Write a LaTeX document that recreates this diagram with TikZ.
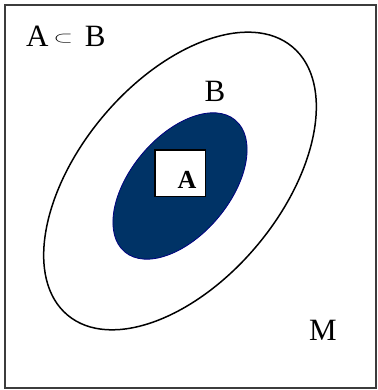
\documentclass[tikz,border=0pt]{standalone}
\usepackage{fontspec,graphicx}
\setmainfont{Liberation Serif}
\definecolor{setN}{RGB}{0,51,102}
\definecolor{setE}{RGB}{0,0,128}
\definecolor{frameG}{RGB}{60,60,60}

\begin{document}
\begin{tikzpicture}[x=1pt,y=1pt,lbl/.style={font=\fontsize{31}{31}\selectfont,inner sep=0pt}]
\useasboundingbox (0,0) rectangle (377,390);
% universe M
\draw[frameG,line width=1.5pt] (5,385) rectangle (376,2);
% set B
\draw[line width=1.5pt] (180,209) ellipse [x radius=175,y radius=100.5,rotate=50];
% set A inside B
\fill[setN] (180,204) ellipse [x radius=86,y radius=49.6,rotate=50];
\draw[setE,line width=0.8pt] (180,204) ellipse [x radius=86,y radius=49.6,rotate=50];
\node[draw,fill=white,line width=1.3pt,minimum width=50.7pt,minimum height=46.7pt,inner sep=0pt] (boxA) at (180.3,216.7) {};
\node[lbl,font=\fontsize{26}{26}\selectfont\bfseries,anchor=base] (labA) at (187,201) {A};
% labels
\node[lbl,anchor=base west] (rel) at (26,343.3) {A\hspace{5pt}\raisebox{4.5pt}{\scalebox{1}[0.62]{$\subset$}}\hspace{12pt}B};
\node[lbl,anchor=base] (labB) at (215,288.3) {B};
\node[lbl,anchor=base] (labM) at (323,49.3) {M};
\end{tikzpicture}
\end{document}
